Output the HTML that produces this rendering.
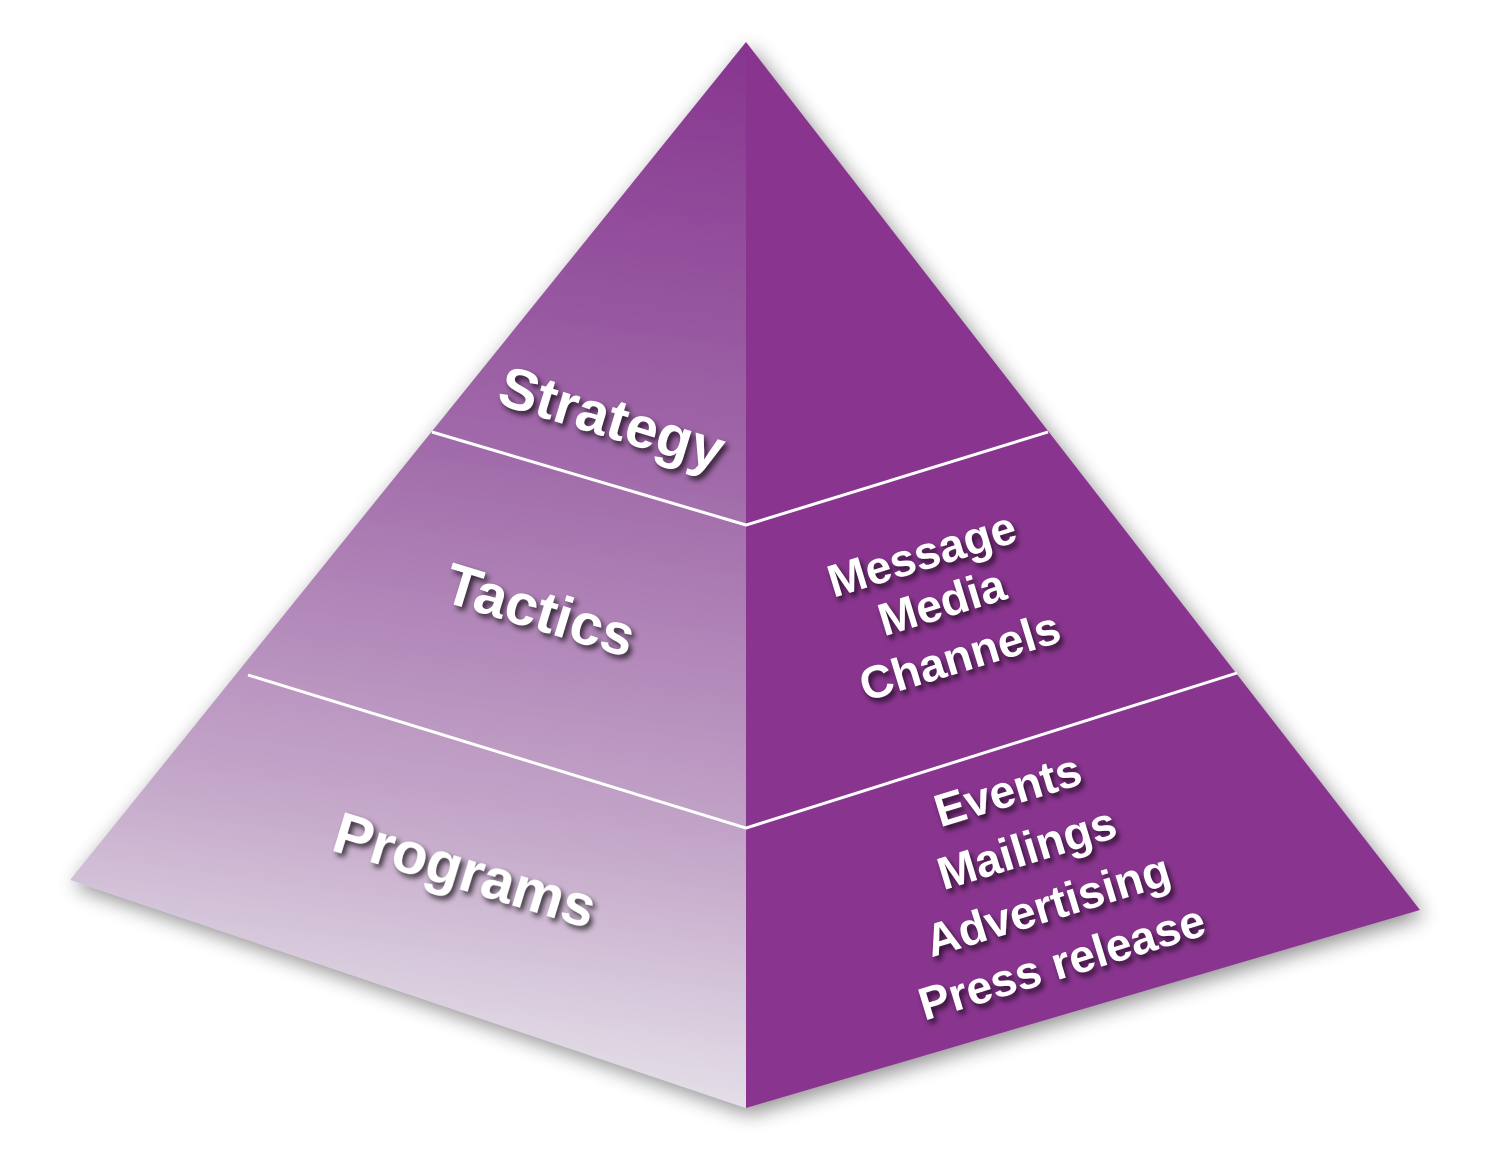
<!DOCTYPE html>
<html><head><meta charset="utf-8"><style>
html,body{margin:0;padding:0;background:#fff;}
svg{display:block;}
text{font-family:"Liberation Sans",sans-serif;font-weight:bold;fill:#fff;}
</style></head><body>
<svg width="1500" height="1151" viewBox="0 0 1500 1151" xmlns="http://www.w3.org/2000/svg">
<defs>
<linearGradient id="lg" x1="0" y1="0" x2="0" y2="1" gradientUnits="userSpaceOnUse" >
</linearGradient>
<linearGradient id="lf" x1="746" y1="42" x2="600" y2="1108" gradientUnits="userSpaceOnUse">
<stop offset="0" stop-color="#86358f"/>
<stop offset="0.4" stop-color="#a069a9"/>
<stop offset="0.75" stop-color="#c4a7c9"/>
<stop offset="1" stop-color="#e6e3ea"/>
</linearGradient>
<filter id="sh" x="-10%" y="-10%" width="130%" height="130%">
<feGaussianBlur in="SourceAlpha" stdDeviation="10"/>
<feOffset dx="4" dy="6"/>
<feComponentTransfer><feFuncA type="linear" slope="0.45"/></feComponentTransfer>
<feMerge><feMergeNode/><feMergeNode in="SourceGraphic"/></feMerge>
</filter>
<filter id="ts" x="-20%" y="-40%" width="140%" height="180%">
<feGaussianBlur in="SourceAlpha" stdDeviation="3"/>
<feOffset dx="3" dy="4"/>
<feComponentTransfer><feFuncA type="linear" slope="0.7"/></feComponentTransfer>
<feMerge><feMergeNode/><feMergeNode in="SourceGraphic"/></feMerge>
</filter>
</defs>
<g filter="url(#sh)">
<polygon points="746,42 70,880 746,1108" fill="url(#lf)"/>
<polygon points="746,42 1420,910 746,1108" fill="#89358f"/>
</g>
<g stroke="#fff" stroke-width="3" fill="none">
<polyline points="432,432 746,525 1048,432"/>
<polyline points="248,675 746,828 1237,673"/>
</g>
<g filter="url(#ts)" text-anchor="middle">
<text x="612" y="438" font-size="58" transform="rotate(17 612 418)">Strategy</text>
<text x="540" y="630" font-size="58" transform="rotate(17 540 610)">Tactics</text>
<text x="465" y="890" font-size="58" transform="rotate(17 465 870)">Programs</text>
<g font-size="46">
<text x="922" y="570" transform="rotate(-17 922 555)">Message</text>
<text x="942" y="618" transform="rotate(-17 942 603)">Media</text>
<text x="960" y="672" transform="rotate(-17 960 657)">Channels</text>
<text x="1008" y="806" transform="rotate(-17 1008 791)">Events</text>
<text x="1027" y="864" transform="rotate(-17 1027 849)">Mailings</text>
<text x="1048" y="921" transform="rotate(-17 1048 906)">Advertising</text>
<text x="1062" y="978" transform="rotate(-17 1062 963)">Press release</text>
</g>
</g>
</svg>
</body></html>
